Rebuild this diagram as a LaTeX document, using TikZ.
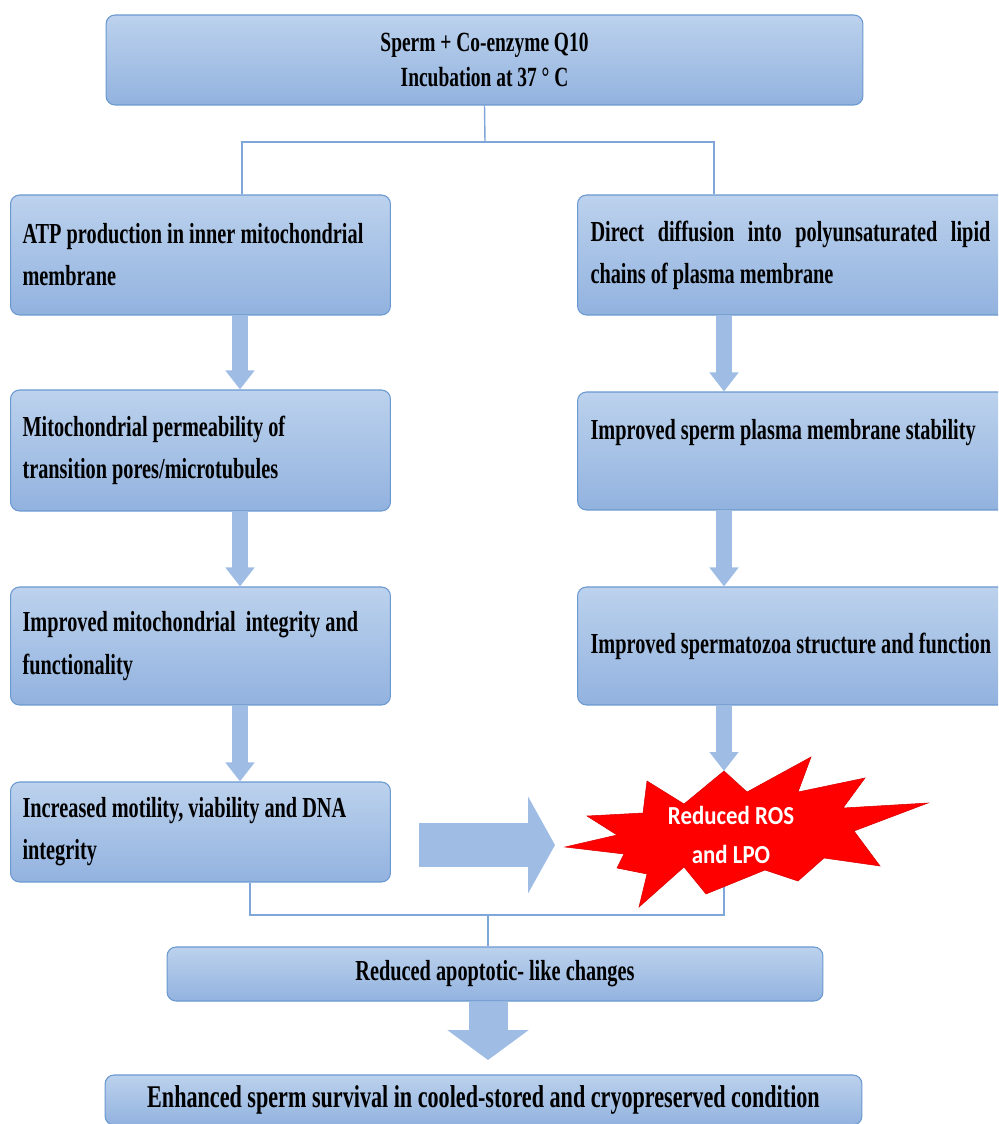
\documentclass[tikz,border=0pt]{standalone}
\usepackage{fontspec}
\setmainfont{Liberation Serif}[FakeStretch=0.70]
\newfontfamily\burstfont{Carlito}[FakeStretch=0.88]
\usetikzlibrary{arrows.meta, positioning, calc}

\definecolor{boxtop}{HTML}{BCD2ED}
\definecolor{boxbottom}{HTML}{92B2DF}
\definecolor{boxline}{HTML}{6A98D0}
\definecolor{linkblue}{HTML}{7EA6D8}
\definecolor{arrowblue}{HTML}{9FBDE4}
\definecolor{burstred}{HTML}{FF0000}

\tikzstyle{stage} = [rectangle, draw=boxline, line width=0.6pt, top color=boxtop, bottom color=boxbottom, rounded corners=0.18cm, inner xsep=0.24cm, font=\bfseries\fontsize{16.5}{24}\selectfont]
\tikzstyle{leftstage} = [stage, anchor=west, text width=7.12cm, align=flush left]
\tikzstyle{rightstage} = [stage, anchor=west, inner xsep=0.26cm, text width=8.6cm, align=flush left]
\tikzstyle{link} = [draw=linkblue, line width=0.8pt]
\tikzstyle{flow} = [draw=arrowblue, line width=0.32cm, -{Triangle[width=0.56cm, length=0.38cm]}]
\tikzstyle{bigflow} = [draw=arrowblue]
\tikzstyle{burst} = [fill=burstred, draw=red!85!black, line width=0.3pt]
\tikzstyle{burstlabel} = [text=white, align=center, font=\burstfont\bfseries\fontsize{14.8}{22.7}\selectfont]

\begin{document}
\begin{tikzpicture}[x=0.02cm, y=-0.02cm]
    \useasboundingbox (0,0) rectangle (998,1124);
    \clip (0,0) rectangle (998,1124);

    \node (mix) [stage, align=center, minimum width=15.14cm, minimum height=1.8cm, font=\bfseries\fontsize{15.8}{20.4}\selectfont] at (484.5,60) {Sperm + Co-enzyme Q10\\Incubation at 37 ° C};

    \node (atp) [leftstage, minimum height=2.4cm] at (10,255) {ATP production in inner mitochondrial\\membrane};
    \node (mpt) [leftstage, minimum height=2.42cm] at (10,450.5) {Mitochondrial permeability of\\transition pores/microtubules};
    \node (integrity) [leftstage, minimum height=2.36cm] at (10,646) {Improved mitochondrial\ \ integrity and\\functionality};
    \node (motility) [leftstage, minimum height=2cm] at (10,832) {Increased motility, viability\ and DNA\\integrity};

    \node (diffusion) [rightstage, minimum height=2.4cm] at (577,255) {\makebox[8cm][s]{Direct diffusion into polyunsaturated lipid}\\chains of plasma membrane};
    \node (stability) [rightstage, minimum height=2.36cm] at (577,451) {Improved sperm plasma membrane stability\\\mbox{}};
    \node (function) [rightstage, minimum height=2.36cm] at (577,646) {Improved spermatozoa structure and function};

    \node (apoptosis) [stage, align=center, minimum width=13.12cm, minimum height=1.08cm] at (495,974) {Reduced apoptotic- like changes};
    \node (survival) [stage, align=center, minimum width=15.14cm, minimum height=1cm, font=\bfseries\fontsize{18}{24}\selectfont] at (483.5,1100) {Enhanced sperm survival in cooled-stored and cryopreserved condition};

    \coordinate (split) at (485,142);
    \coordinate (merge) at (488,915);
    \coordinate (burstfoot) at (724,880);
    \coordinate (bursttop) at (724,771);
    \coordinate (gainstart) at (419,845);
    \coordinate (gainend) at (555,845);
    \coordinate (settle) at (488,1060);

    \draw [link] (mix.south) -- (split);
    \draw [link] (242,0 |- atp.north) |- (split) -| (714,0 |- diffusion.north);

    \draw [flow] (240,0 |- atp.south) -- (240,0 |- mpt.north);
    \draw [flow] (240,0 |- mpt.south) -- (240,0 |- integrity.north);
    \draw [flow] (240,0 |- integrity.south) -- (240,0 |- motility.north);
    \draw [flow] (724,0 |- diffusion.south) -- (724,0 |- stability.north);
    \draw [flow] (724,0 |- stability.south) -- (724,0 |- function.north);
    \draw [flow] (724,0 |- function.south) -- (bursttop);

    \draw [link] (250,0 |- motility.south) |- (merge) -| (burstfoot);
    \draw [link] (merge) -- (merge |- apoptosis.north);

    \draw [bigflow, line width=0.88cm, -{Triangle[width=1.92cm, length=0.54cm]}] (gainstart) -- (gainend);
    \draw [bigflow, line width=0.78cm, -{Triangle[width=1.6cm, length=0.6cm]}] (merge |- apoptosis.south) -- (settle);

    \filldraw [burst] (724,771) -- (747,792) -- (811,757) -- (798,792) -- (865,778) -- (843,808) -- (928,803) -- (854,831) -- (880,866) -- (824,858) -- (798,881) -- (765,870) -- (706,894) -- (684,867) -- (639,907) -- (647,874) -- (617,868) -- (624,854) -- (565,847) -- (617,835) -- (587,816) -- (643,813) -- (647,781) -- (684,804) -- cycle;
    \node (ros) [burstlabel] at (731,835) {Reduced ROS\\and LPO};
\end{tikzpicture}
\end{document}
